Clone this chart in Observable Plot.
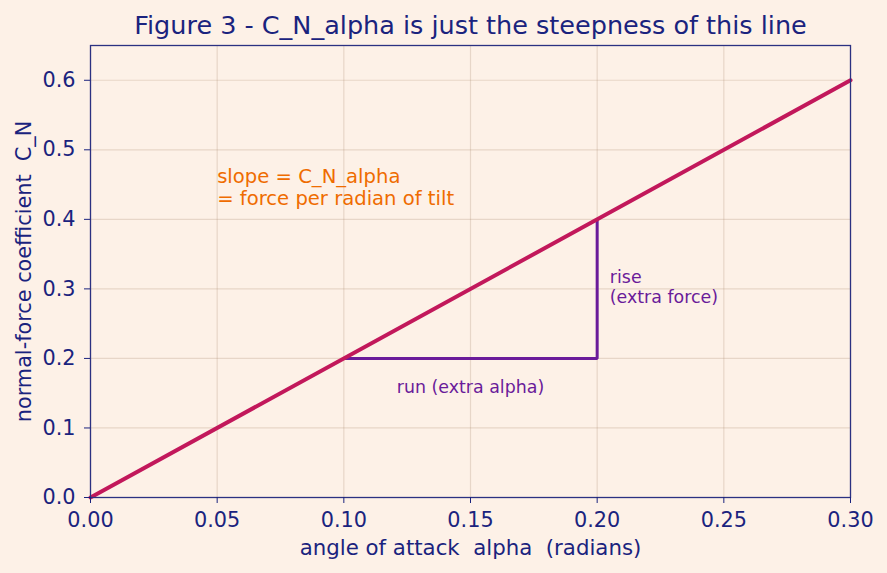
<!DOCTYPE html>
<html>
<head>
<meta charset="utf-8">
<script src="https://cdn.jsdelivr.net/npm/d3@7"></script>
<script src="https://cdn.jsdelivr.net/npm/@observablehq/plot@0.6"></script>
<style>
  html, body { margin: 0; padding: 0; background: #fdf1e7; }
  #chart svg text { white-space: pre; }
</style>
</head>
<body>
<div id="chart"></div>
<script>
// Straight-line normal-force curve: C_N versus angle of attack
const alphaLine = [0, 0.3];
const cnLine = [0, 0.6];

// Rise-over-run triangle drawn under the line
const triAlpha = [0.1, 0.2, 0.2];
const triCn = [0.2, 0.2, 0.4];

// Axis ticks
const xTicks = [0, 0.05, 0.10, 0.15, 0.20, 0.25, 0.30];
const yTicks = [0, 0.1, 0.2, 0.3, 0.4, 0.5, 0.6];

// Text
const titleText = "Figure 3 - C_N_alpha is just the steepness of this line";
const xLabel = "angle of attack  alpha  (radians)";
const yLabel = "normal-force coefficient  C_N";
const slopeNote = [{alpha: 0.05, cn: 0.42, text: "slope = C_N_alpha\n= force per radian of tilt"}];
const riseNote = [{alpha: 0.205, cn: 0.28, text: "rise\n(extra force)"}];
const runNote = [{alpha: 0.15, cn: 0.15, text: "run (extra alpha)"}];

const navy = "#1a237e";
const lineData = alphaLine.map((a, i) => ({alpha: a, cn: cnLine[i]}));
const triData = triAlpha.map((a, i) => ({alpha: a, cn: triCn[i]}));

const chart = Plot.plot({
  width: 887,
  height: 573,
  marginLeft: 90,
  marginRight: 37,
  marginTop: 45,
  marginBottom: 76,
  style: {background: "#fdf1e7", fontFamily: "'DejaVu Sans', sans-serif", fontSize: "20.8px", color: navy},
  x: {domain: [0, 0.3]},
  y: {domain: [0, 0.65]},
  marks: [
    Plot.gridX(xTicks, {stroke: "#a98a6f", strokeOpacity: 0.26, strokeWidth: 1.2}),
    Plot.gridY(yTicks, {stroke: "#a98a6f", strokeOpacity: 0.26, strokeWidth: 1.2}),
    Plot.line(triData, {x: "alpha", y: "cn", stroke: "#6a1b9a", strokeWidth: 3, strokeLinejoin: "miter", strokeLinecap: "butt"}),
    Plot.line(lineData, {x: "alpha", y: "cn", stroke: "#c2185b", strokeWidth: 4}),
    Plot.frame({stroke: "#2b3182", strokeWidth: 1.3}),
    Plot.axisX(xTicks, {tickFormat: d3.format(".2f"), tickSize: 6, tickPadding: 9, label: null, color: navy}),
    Plot.axisY(yTicks, {tickFormat: d3.format(".1f"), tickSize: 6, tickPadding: 9, label: null, color: navy}),
    Plot.text([xLabel], {frameAnchor: "bottom", dy: 57, textAnchor: "middle", lineAnchor: "bottom", fill: navy, fontSize: 21.3}),
    Plot.text([yLabel], {frameAnchor: "left", dx: -60, rotate: -90, textAnchor: "middle", lineAnchor: "bottom", fill: navy, fontSize: 20.8}),
    Plot.text([titleText], {frameAnchor: "top", dy: -12, textAnchor: "middle", lineAnchor: "bottom", fill: navy, fontSize: 25.5}),
    Plot.text(slopeNote, {x: "alpha", y: "cn", text: "text", textAnchor: "start", lineAnchor: "bottom", lineHeight: 1.15, fill: "#ef6c00", fontSize: 19.6}),
    Plot.text(riseNote, {x: "alpha", y: "cn", text: "text", textAnchor: "start", lineAnchor: "bottom", lineHeight: 1.15, fill: "#6a1b9a", fontSize: 17.4}),
    Plot.text(runNote, {x: "alpha", y: "cn", text: "text", textAnchor: "middle", lineAnchor: "bottom", fill: "#6a1b9a", fontSize: 17.4})
  ]
});

document.getElementById("chart").append(chart);
</script>
</body>
</html>
